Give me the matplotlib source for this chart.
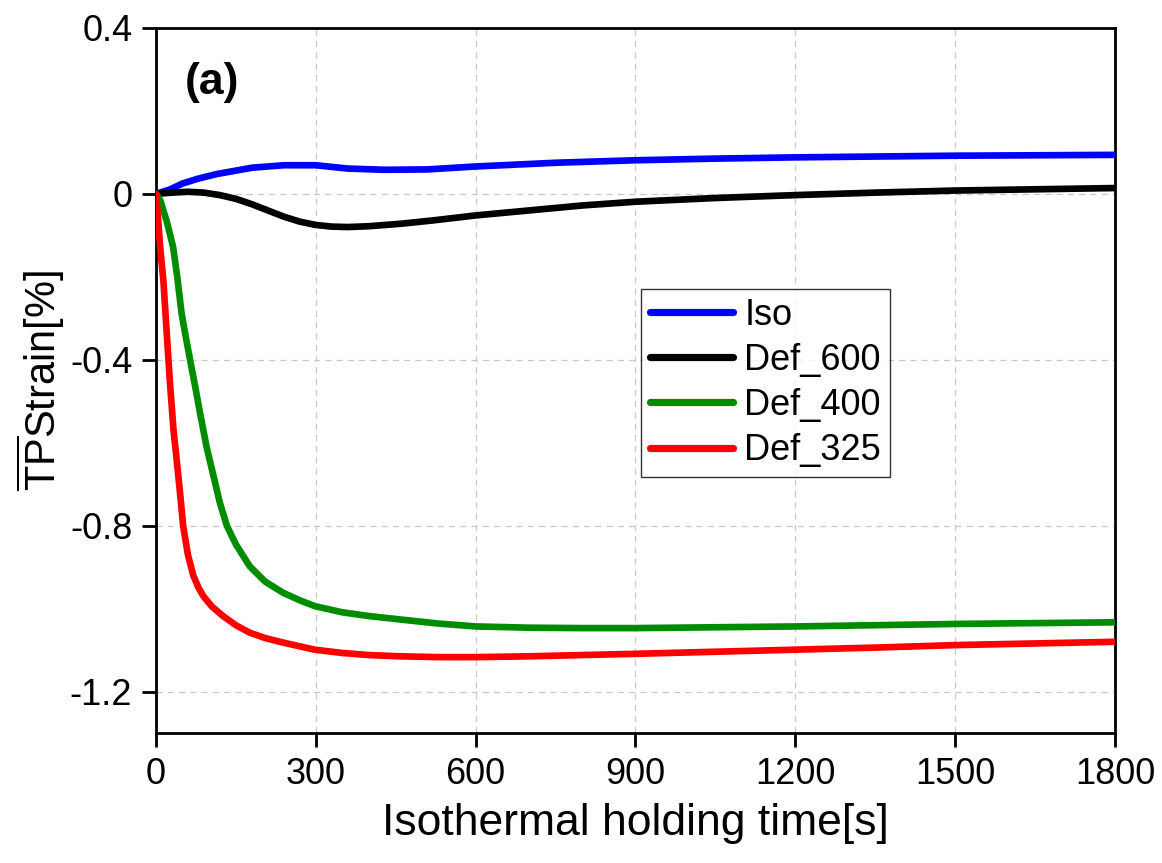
import matplotlib
matplotlib.use("Agg")
import matplotlib.pyplot as plt

# Transformation-plasticity strain during isothermal holding
iso_t = [0, 25, 50, 80, 115, 150, 180, 240, 300, 360, 430, 510, 600, 750,
         900, 1050, 1200, 1350, 1500, 1650, 1800]
iso_y = [0, 0.010, 0.025, 0.037, 0.048, 0.056, 0.063, 0.069, 0.069, 0.061,
         0.058, 0.059, 0.066, 0.075, 0.081, 0.085, 0.088, 0.090, 0.092,
         0.093, 0.094]

def600_t = [0, 30, 60, 90, 120, 150, 180, 210, 240, 270, 300, 330, 360, 400,
            460, 520, 600, 700, 800, 900, 1050, 1200, 1350, 1500, 1650, 1800]
def600_y = [0, 0.003, 0.005, 0.003, -0.003, -0.012, -0.025, -0.040, -0.055,
            -0.067, -0.075, -0.079, -0.080, -0.078, -0.072, -0.064, -0.052,
            -0.040, -0.028, -0.019, -0.010, -0.003, 0.003, 0.008, 0.011, 0.014]

def400_t = [0, 8, 20, 32, 40, 48, 56, 64, 73, 83, 95, 108, 120, 133, 150, 176,
            205, 239, 270, 298, 350, 400, 457, 530, 600, 700, 800, 900, 1050,
            1200, 1350, 1500, 1650, 1800]
def400_y = [0, -0.015, -0.065, -0.127, -0.200, -0.287, -0.345, -0.400, -0.460,
            -0.530, -0.610, -0.680, -0.745, -0.800, -0.845, -0.898, -0.935,
            -0.962, -0.980, -0.994, -1.009, -1.018, -1.026, -1.036, -1.043,
            -1.046, -1.047, -1.047, -1.045, -1.043, -1.040, -1.037, -1.035,
            -1.033]

def325_t = [0, 4, 8, 14, 20, 26, 33, 38, 42, 47, 51, 60, 70, 80, 89, 105, 126,
            150, 176, 205, 239, 270, 298, 350, 400, 457, 530, 600, 700, 800,
            900, 1050, 1200, 1350, 1500, 1650, 1800]
def325_y = [0, -0.060, -0.130, -0.210, -0.330, -0.450, -0.570, -0.630, -0.680,
            -0.745, -0.800, -0.870, -0.920, -0.950, -0.970, -0.995, -1.018,
            -1.040, -1.058, -1.071, -1.082, -1.091, -1.099, -1.107, -1.112,
            -1.115, -1.117, -1.117, -1.115, -1.112, -1.109, -1.104, -1.099,
            -1.094, -1.088, -1.084, -1.080]

series = [
    ("Iso", iso_t, iso_y, "#0000ff"),
    ("Def_600", def600_t, def600_y, "#000000"),
    ("Def_400", def400_t, def400_y, "#008c00"),
    ("Def_325", def325_t, def325_y, "#ff0000"),
]

x_ticks = [0, 300, 600, 900, 1200, 1500, 1800]
y_ticks = [-1.2, -0.8, -0.4, 0, 0.4]
y_tick_labels = ["-1.2", "-0.8", "-0.4", "0", "0.4"]

plt.rcParams.update({
    "font.family": ["Liberation Sans", "DejaVu Sans"],
    "mathtext.fontset": "custom",
    "mathtext.rm": "Liberation Sans",
    "mathtext.it": "Liberation Sans:italic",
    "mathtext.bf": "Liberation Sans:bold",
})

fig = plt.figure(figsize=(11.62, 8.63), dpi=100)
ax = fig.add_axes([0.1342, 0.1506, 0.8254, 0.8170])

for label, t, y, color in series:
    ax.plot(t, y, color=color, lw=4.8, label=label,
            solid_joinstyle="round", solid_capstyle="round", zorder=3)

ax.set_xlim(0, 1800)
ax.set_ylim(-1.3, 0.4)
ax.set_xticks(x_ticks)
ax.set_yticks(y_ticks)
ax.set_yticklabels(y_tick_labels)
ax.tick_params(direction="out", length=10, width=2, labelsize=26, pad=7,
               top=False, right=False)
for sp in ax.spines.values():
    sp.set_linewidth(2)
ax.grid(True, color="#c8c8c8", linestyle=(0, (5, 4)), linewidth=0.9, zorder=0)

ax.set_xlabel("Isothermal holding time[s]", fontsize=32, labelpad=8)
ax.set_ylabel(r"$\overline{\mathrm{TP}}$Strain[%]", fontsize=30, labelpad=2)

ax.text(0.030, 0.922, "(a)", transform=ax.transAxes, fontsize=32,
        fontweight="bold", ha="left", va="center")

leg = ax.legend(loc="upper left", bbox_to_anchor=(0.506, 0.630), fontsize=26,
                frameon=True, fancybox=False, handlelength=2.3,
                handletextpad=0.3, labelspacing=0.28, borderpad=0.25,
                borderaxespad=0)
leg.get_frame().set_edgecolor("black")
leg.get_frame().set_linewidth(1.0)
for h in leg.get_lines():
    h.set_linewidth(5.2)

fig.savefig("out.png", dpi=100)
